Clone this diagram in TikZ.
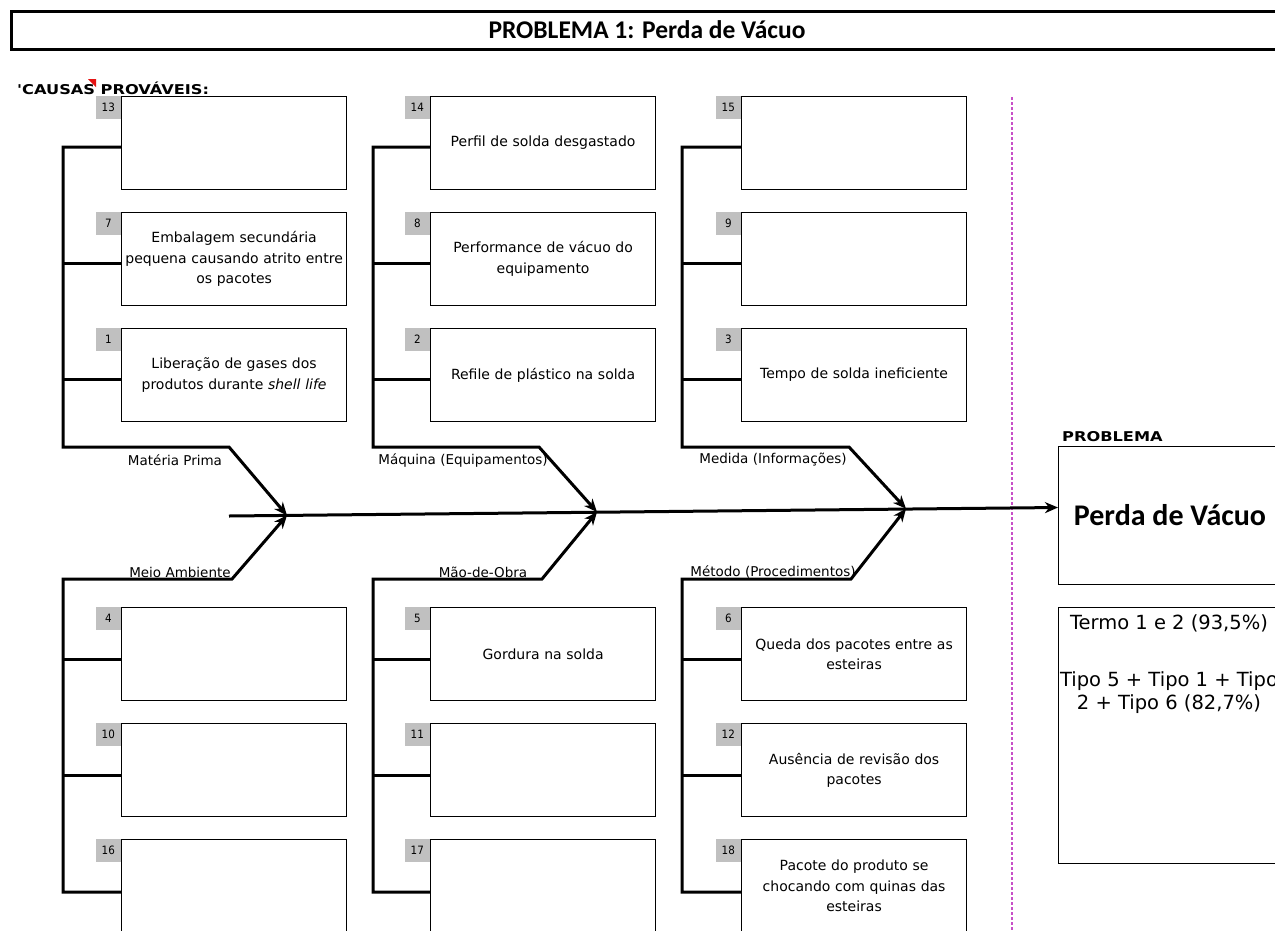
\documentclass[tikz,border=0pt]{standalone}
\usepackage{fontspec}
\setmainfont{DejaVu Sans}
\newfontfamily\calib{Carlito}
\newfontfamily\widebold[FakeStretch=1.2]{DejaVu Sans Bold}
\newfontfamily\numfont{DejaVu Sans Condensed}
\usetikzlibrary{arrows.meta}
\definecolor{numgray}{RGB}{192,192,192}
\definecolor{sepline}{RGB}{200,80,200}
\definecolor{causered}{RGB}{230,20,20}
\hyphenpenalty=10000
\exhyphenpenalty=10000

% one cause box with its grey number tab
\newcommand\causeitem[5]{%
  \node[causebox] (#1) at (#2,#3) {#5};
  \node[numbox] (#1n) at (#1.north west) {#4};}

\begin{document}
\begin{tikzpicture}[x=1pt,y=-1pt,
  causebox/.style={draw, line width=1.2pt, minimum width=225pt, minimum height=93pt,
    inner sep=1pt, text width=222pt, align=center,
    font=\fontsize{14}{20.5}\selectfont, anchor=north west},
  numbox/.style={fill=numgray, minimum width=25pt, minimum height=23pt, inner sep=0pt,
    anchor=north east, font=\numfont\fontsize{11.5}{12}\selectfont},
  bone/.style={line width=3pt, line join=miter},
  boneend/.style={bone, -{Stealth[length=13pt,width=11pt,inset=4pt]}},
  catlabel/.style={font=\fontsize{13.5}{15}\selectfont, inner sep=0pt},
  probbox/.style={draw, line width=1.4pt, anchor=north west, inner sep=0pt},
]
\path[use as bounding box] (0,0) rectangle (1275,930);
\clip (0,0) rectangle (1275,930);
\fill[white] (0,0) rectangle (1275,930);

% title bar
\node[draw, line width=3pt, minimum width=1272pt, minimum height=38pt, anchor=north west,
  inner sep=0pt] (titlebar) at (10,10) {};
\node[font=\calib\bfseries\fontsize{25.5}{27}\selectfont] (title) at (647,30)
  {PROBLEMA 1: Perda de Vácuo};

% heading
\node[font=\widebold\fontsize{13.5}{15}\selectfont, anchor=west, inner sep=0pt] (causes)
  at (17,88) {'CAUSAS PROVÁVEIS:};
\fill[causered] (88,79) -- (96,79) -- (96,87) -- cycle;

% cause boxes, upper row of groups
\causeitem{b13}{121}{96}{13}{}
\causeitem{b7}{121}{212}{7}{Embalagem secundária\\pequena causando atrito entre\\os pacotes}
\causeitem{b1}{121}{328}{1}{Liberação de gases dos\\produtos durante \textit{shell life}}
\causeitem{b14}{430}{96}{14}{Perfil de solda desgastado}
\causeitem{b8}{430}{212}{8}{Performance de vácuo do\\equipamento}
\causeitem{b2}{430}{328}{2}{Refile de plástico na solda}
\causeitem{b15}{741}{96}{15}{}
\causeitem{b9}{741}{212}{9}{}
\causeitem{b3}{741}{328}{3}{Tempo de solda ineficiente}

% cause boxes, lower row of groups
\causeitem{b4}{121}{607}{4}{}
\causeitem{b10}{121}{723}{10}{}
\causeitem{b16}{121}{839}{16}{}
\causeitem{b5}{430}{607}{5}{Gordura na solda}
\causeitem{b11}{430}{723}{11}{}
\causeitem{b17}{430}{839}{17}{}
\causeitem{b6}{741}{607}{6}{Queda dos pacotes entre as\\esteiras}
\causeitem{b12}{741}{723}{12}{Ausência de revisão dos\\pacotes}
\causeitem{b18}{741}{839}{18}{Pacote do produto se\\chocando com quinas das\\esteiras}

% problem boxes
\node[font=\widebold\fontsize{13.5}{15}\selectfont, anchor=south west, inner sep=0pt]
  (problabel) at (1062,442) {PROBLEMA};
\node[probbox, minimum width=224pt, minimum height=138pt] (prob) at (1058,446) {};
\node[font=\calib\bfseries\fontsize{30}{32}\selectfont] (probtext) at (1170,515)
  {Perda de Vácuo};
\node[probbox, minimum width=224pt, minimum height=256pt] (notes) at (1058,607) {};
\node[font=\fontsize{19.5}{23}\selectfont, align=center, anchor=north, inner sep=0pt]
  (notetext) at (1169,614)
  {Termo 1 e 2 (93,5\%)\\[34pt]Tipo 5 + Tipo 1 + Tipo\\2 + Tipo 6 (82,7\%)};

% separator
\draw[sepline, line width=1.5pt, dash pattern=on 2.5pt off 2.5pt] (1012,97) -- (1012,930);

% spine and joints
\coordinate (spinestart) at (229,516);
\coordinate (j1) at (287,515.4);
\coordinate (j2) at (597,512);
\coordinate (j3) at (906,508.7);
\coordinate (spineend) at (prob.west |- 0,507.5);
\draw[boneend] (spinestart) -- (spineend);

% upper bones
\foreach \bx/\ex/\ja/\ba/\bb/\bc in {63/229/j1/b13/b7/b1, 373/539/j2/b14/b8/b2, 682/849/j3/b15/b9/b3}{
  \draw[boneend] ([yshift=-4pt]\ba.west) -- ([yshift=-4pt]\ba.west -| \bx,0)
    -- (\bx,447) -- (\ex,447) -- (\ja);
  \draw[bone] ([yshift=-4pt]\bb.west -| \bx,0) -- ([yshift=-4pt]\bb.west);
  \draw[bone] ([yshift=-4pt]\bc.west -| \bx,0) -- ([yshift=-4pt]\bc.west);
}
% lower bones
\foreach \bx/\ex/\ja/\ba/\bb/\bc in {63/232/j1/b16/b10/b4, 373/542/j2/b17/b11/b5, 682/851/j3/b18/b12/b6}{
  \draw[boneend] ([yshift=-6pt]\ba.west) -- ([yshift=-6pt]\ba.west -| \bx,0)
    -- (\bx,579) -- (\ex,579) -- (\ja);
  \draw[bone] ([yshift=-5pt]\bb.west -| \bx,0) -- ([yshift=-5pt]\bb.west);
  \draw[bone] ([yshift=-5pt]\bc.west -| \bx,0) -- ([yshift=-5pt]\bc.west);
}

% group labels
\node[catlabel] (lmp) at (175,460) {Matéria Prima};
\node[catlabel] (lmq) at (463,460) {Máquina (Equipamentos)};
\node[catlabel] (lmd) at (773,460) {Medida (Informações)};
\node[catlabel] (lma) at (180,572) {Meio Ambiente};
\node[catlabel] (lmo) at (483,572) {Mão-de-Obra};
\node[catlabel] (lmt) at (773,572) {Método (Procedimentos)};
\end{tikzpicture}
\end{document}
